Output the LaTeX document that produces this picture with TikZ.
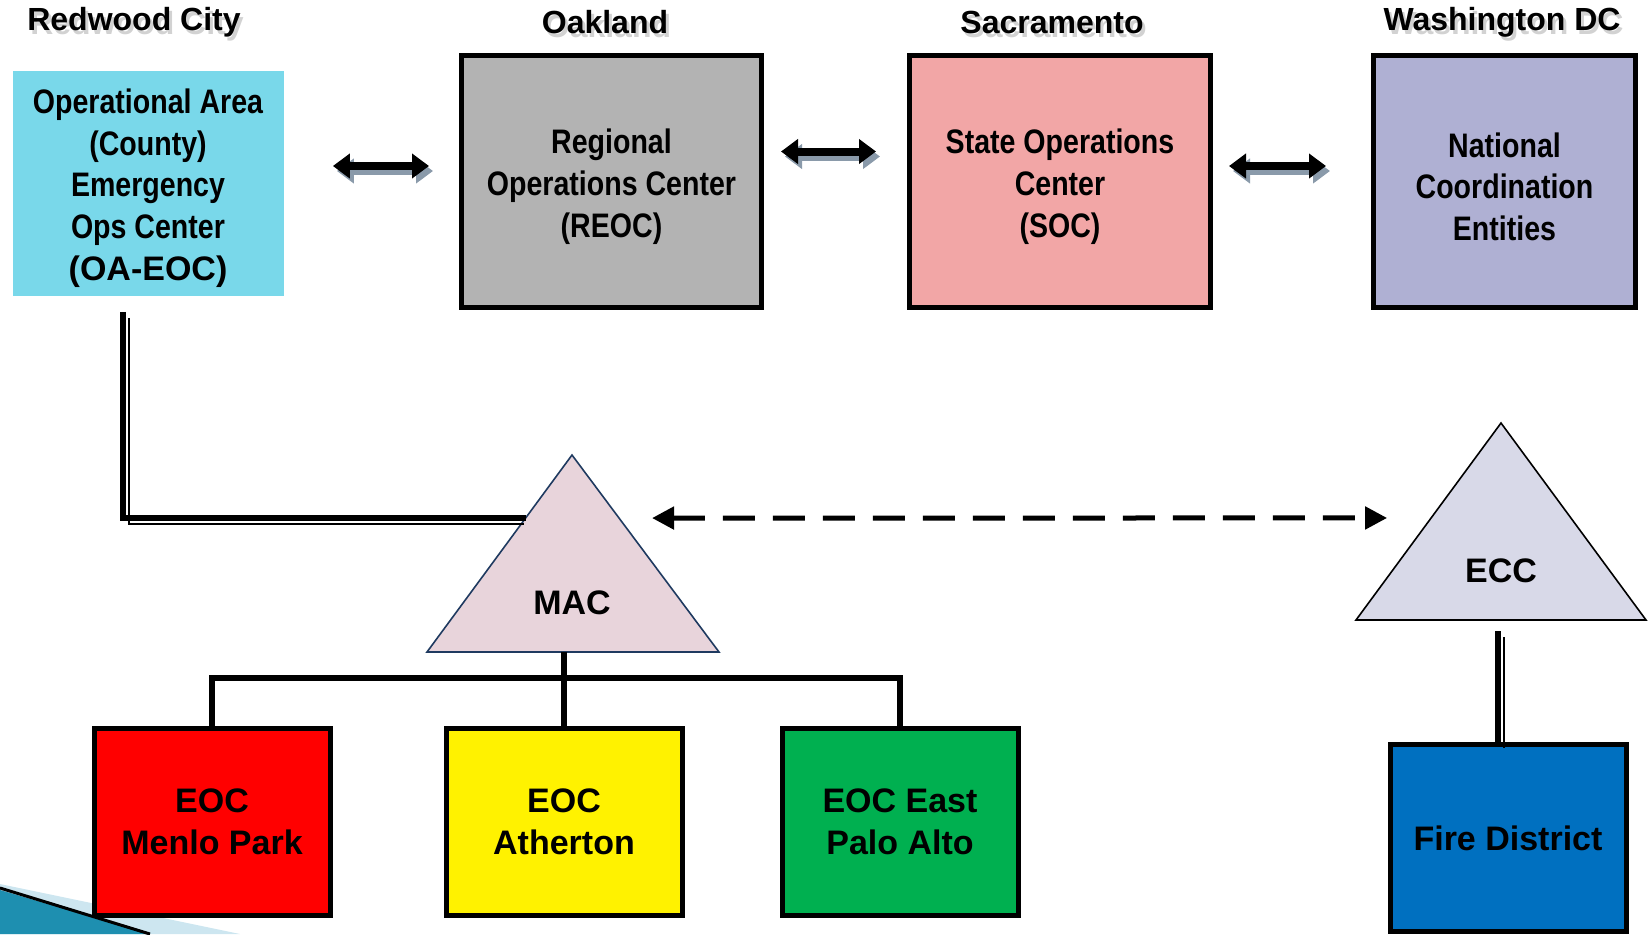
\documentclass[tikz,border=0pt]{standalone}
\usepackage{fontspec}
\setmainfont{Liberation Sans}
\newfontfamily\narrowfont[FakeStretch=0.84]{Liberation Sans}
\usetikzlibrary{positioning}
\usetikzlibrary{arrows.meta}
\usetikzlibrary{calc}
\definecolor{oacyan}{HTML}{79D8EA}
\definecolor{reocgray}{HTML}{B3B3B3}
\definecolor{socpink}{HTML}{F2A6A6}
\definecolor{natblue}{HTML}{AFB0D3}
\definecolor{macpink}{HTML}{E8D4DB}
\definecolor{macedge}{HTML}{1F3A60}
\definecolor{eccgray}{HTML}{D8D9E8}
\definecolor{eocgreen}{HTML}{00B050}
\definecolor{fireblue}{HTML}{0070C0}
\definecolor{arrowshade}{HTML}{8A9AAA}
\definecolor{swoosh}{HTML}{1E8FB0}
\definecolor{swooshl}{HTML}{CDE6F0}
\newcommand{\tstrut}{\rule{0pt}{17.5pt}}
\newcommand{\shadetext}[1]{\rlap{\hspace{1.5pt}\raisebox{-2pt}{\textcolor{gray!35}{#1}}}#1}
\tikzset{
    topbox/.style = {rectangle, line width=2.5pt, draw=black, align=center, inner sep=0pt, minimum height=126pt, font=\narrowfont\bfseries\fontsize{17}{20.8}\selectfont},
    oabox/.style = {rectangle, fill=oacyan, align=center, inner sep=0pt, minimum width=135.5pt, minimum height=112.5pt, font=\narrowfont\bfseries\fontsize{17}{20.8}\selectfont},
    eocbox/.style = {rectangle, line width=2.5pt, draw=black, align=center, minimum width=118pt, minimum height=93.5pt, font=\bfseries\fontsize{17}{21}\selectfont},
    citylabel/.style = {font=\bfseries\fontsize{16}{19}\selectfont},
    trilabel/.style = {font=\bfseries\fontsize{17}{20}\selectfont},
    mactri/.style = {fill=macpink, draw=macedge, line width=0.8pt},
    ecctri/.style = {fill=eccgray, draw=black, line width=0.8pt},
    edgen/.style = {line width=2.8pt},
    edgethk/.style = {line width=3.2pt},
    edgethn/.style = {line width=1pt, transform canvas={xshift=3pt,yshift=-3pt}}, % thin twin
    edgebi/.style = {{Triangle[width=12pt,length=8.5pt]}-{Triangle[width=12pt,length=8.5pt]}, line width=4pt},
    edgebis/.style = {edgebi, draw=arrowshade, transform canvas={xshift=2pt,yshift=-2.5pt}}, % shade
    edgedash/.style = {{Triangle[width=11pt,length=11pt]}-{Triangle[width=11pt,length=11pt]}, line width=2.5pt, dash pattern=on 16pt off 9pt}
}
\begin{document}
\begin{tikzpicture}[x=0.5pt,y=-0.5pt]
\useasboundingbox (0,0) rectangle (1650,934);
% corner swoosh
\fill[swooshl] (0,884) -- (240,934) -- (0,934) -- cycle;
\fill[swoosh] (0,890) -- (150,934) -- (0,934) -- cycle;
\draw[line width=1.5pt] (0,888) -- (150,934);

% city labels
\node[citylabel] (rwc) at (134,24) {\shadetext{Redwood City}};
\node[citylabel] (oak) at (605,24) {\shadetext{Oakland}};
\node[citylabel] (sac) at (1052,24) {\shadetext{Sacramento}};
\node[citylabel] (wdc) at (1502,24) {\shadetext{Washington DC}};

% top row
\node[oabox] (oa) at (148,183) {\tstrut Operational Area\\(County)\\Emergency\\Ops Center\\{\rmfamily\bfseries (OA-EOC)}};
\node[topbox, fill=reocgray, minimum width=150pt] (reoc) at (611.5,181.5) {\tstrut Regional\\Operations Center\\(REOC)};
\node[topbox, fill=socpink, minimum width=150.5pt] (soc) at (1060,181.5) {\tstrut State Operations\\Center\\(SOC)};
\node[topbox, fill=natblue, minimum width=131pt] (nat) at (1504.5,181.5) {\tstrut National\\Coordination\\Entities};

\draw[edgebis, shorten <=24.5pt, shorten >=15pt] ([yshift=8.5pt]oa.east) -- ([yshift=8.5pt]oa.east -| reoc.west);
\draw[edgebi, shorten <=24.5pt, shorten >=15pt] ([yshift=8.5pt]oa.east) -- ([yshift=8.5pt]oa.east -| reoc.west);
\draw[edgebis, shorten <=8.5pt, shorten >=15.5pt] ([yshift=15pt]reoc.east) -- ([yshift=15pt]soc.west);
\draw[edgebi, shorten <=8.5pt, shorten >=15.5pt] ([yshift=15pt]reoc.east) -- ([yshift=15pt]soc.west);
\draw[edgebis, shorten <=8pt, shorten >=22.5pt] ([yshift=7.75pt]soc.east) -- ([yshift=7.75pt]nat.west);
\draw[edgebi, shorten <=8pt, shorten >=22.5pt] ([yshift=7.75pt]soc.east) -- ([yshift=7.75pt]nat.west);

% triangles
\coordinate (macT) at (572,455);
\coordinate (macL) at (427,652);
\coordinate (macR) at (719,652);
\filldraw[mactri] (macT) -- (macR) -- (macL) -- cycle;
\node[trilabel] (mac) at (572,603) {MAC};
\coordinate (eccT) at (1501,423);
\coordinate (eccL) at (1356,620);
\coordinate (eccR) at (1646,620);
\coordinate (eccB) at (1498,620);
\filldraw[ecctri] (eccT) -- (eccR) -- (eccL) -- cycle;
\node[trilabel] (ecc) at (1501,571) {ECC};

% bottom row
\node[eocbox, fill=red] (menlo) at (212,822) {EOC\\Menlo Park};
\node[eocbox, fill=yellow] (ath) at (564,822) {EOC\\Atherton};
\node[eocbox, fill=eocgreen] (epa) at (900,822) {EOC East\\Palo Alto};
\node[eocbox, fill=fireblue] (fire) at (1508,838) {Fire District};

% connectors
\coordinate (oaend) at ($(macL)!0.68!(macT)$);
\draw[edgethn] ([xshift=-12.5pt,yshift=-8pt]oa.south) |- ([xshift=-4pt]oaend);
\draw[edgethk] ([xshift=-12.5pt,yshift=-8pt]oa.south) |- (oaend);
\draw[edgedash, shorten <=16.5pt, shorten >=22pt] ($(macR)!0.68!(macT)$) -- ($(eccL)!0.518!(eccT)$);
\coordinate (bar) at (564,678);
\draw[edgen] (menlo.north) |- (bar) -| (epa.north);
\draw[edgen] (ath.north) -- (ath.north |- macL);
\draw[edgethn] ([yshift=-5.5pt]eccB) -- (fire.north -| eccB);
\draw[edgethk] ([yshift=-5.5pt]eccB) -- (fire.north -| eccB);
\end{tikzpicture}
\end{document}
